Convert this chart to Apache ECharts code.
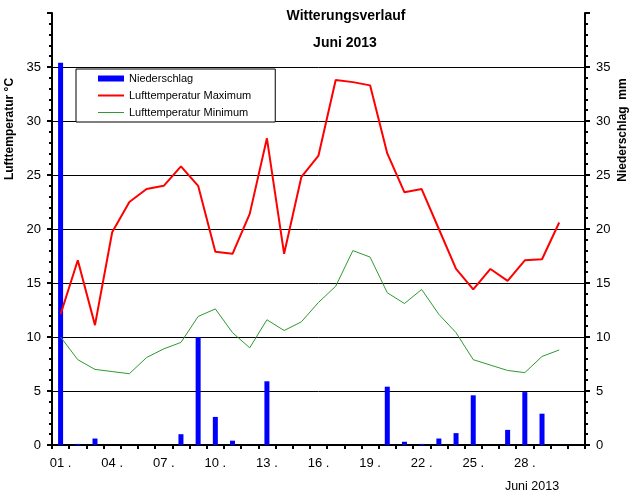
<!DOCTYPE html>
<html>
<head>
<meta charset="utf-8">
<script src="https://cdn.jsdelivr.net/npm/echarts@6/dist/echarts.min.js"></script>
<style>
html,body{margin:0;padding:0;background:#fff;}
#chart{width:634px;height:504px;}
</style>
</head>
<body>
<div id="chart"></div>
<script>
// Days of June 2013 (31 slots on the axis, 30 with data)
var days = ['01','02','03','04','05','06','07','08','09','10','11','12','13','14','15','16','17','18','19','20','21','22','23','24','25','26','27','28','29','30','31'];
// Precipitation (mm)
var niederschlag = [35.4,0.1,0.6,0,0,0,0,1.0,10.0,2.6,0.4,0,5.9,0,0,0,0,0,0,5.4,0.3,0.1,0.6,1.1,4.6,0,1.4,4.9,2.9,0];
// Max air temperature (°C)
var tMax = [12.1,17.1,11.1,19.7,22.5,23.7,24.0,25.8,24.0,17.9,17.7,21.4,28.4,17.7,24.8,26.8,33.8,33.6,33.3,27.0,23.4,23.7,20.0,16.3,14.4,16.3,15.2,17.1,17.2,20.6];
// Min air temperature (°C)
var tMin = [10.0,7.9,7.0,6.8,6.6,8.1,8.9,9.5,11.9,12.6,10.4,9.0,11.6,10.6,11.4,13.2,14.7,18.0,17.4,14.1,13.1,14.4,12.1,10.4,7.9,7.4,6.9,6.7,8.2,8.8];
// Which day labels are shown on the x axis
var shownDayLabels = ['01','04','07','10','13','16','19','22','25','28'];

var FONT = '"Liberation Sans", Arial, sans-serif';
var chart = echarts.init(document.getElementById('chart'), null, {renderer:'canvas'});

var yAxisBase = function (pos, split) {
  return {
    type: 'value', position: pos, min: 0, max: 40, interval: 5,
    axisLine: {show: true, lineStyle: {color: '#000', width: 2}},
    axisTick: {show: true, length: 5, lineStyle: {color: '#000', width: 2}},
    minorTick: {show: true, splitNumber: 5, length: 3, lineStyle: {color: '#000', width: 2}},
    axisLabel: {show: true, showMaxLabel: false, margin: 11, color: '#000', fontSize: 13, fontFamily: FONT},
    splitLine: {show: split, showMaxLine: false, lineStyle: {color: '#000', width: 1}},
    minorSplitLine: {show: false}
  };
};

var option = {
  animation: false,
  backgroundColor: '#fff',
  grid: {left: 52, right: 49, top: 13, bottom: 59, containLabel: false},
  legend: {
    orient: 'vertical', left: 76, top: 69,
    itemWidth: 26, itemHeight: 12, itemGap: 6,
    padding: [4, 24, 4, 22],
    borderColor: '#000', borderWidth: 1, backgroundColor: '#fff',
    textStyle: {color: '#000', fontSize: 11, fontFamily: FONT},
    data: [
      {name: 'Niederschlag', icon: 'path://M0,0H26V6H0Z'},
      {name: 'Lufttemperatur Maximum', icon: 'path://M0,0H26V2H0Z'},
      {name: 'Lufttemperatur Minimum', icon: 'path://M0,0H26V1H0Z'}
    ]
  },
  xAxis: [
    {
      type: 'category', data: days, boundaryGap: true, position: 'bottom',
      axisLine: {show: true, lineStyle: {color: '#000', width: 2}},
      axisTick: {show: false}, axisLabel: {show: false}, splitLine: {show: false}
    },
    {
      type: 'category', data: days, boundaryGap: true, position: 'bottom', offset: 5,
      axisLine: {show: true, lineStyle: {color: '#000', width: 2}},
      axisTick: {show: true, interval: 0, length: 4, lineStyle: {color: '#000', width: 2}},
      axisLabel: {
        show: true, margin: 7, color: '#000', fontSize: 13, fontFamily: FONT,
        interval: function (idx, val) { return shownDayLabels.indexOf(val) >= 0; },
        formatter: function (v) { return v + ' .'; }
      },
      splitLine: {show: false}
    }
  ],
  yAxis: [yAxisBase('left', true), yAxisBase('right', false)],
  graphic: [
    {type: 'text', x: 346, y: 16, style: {text: 'Witterungsverlauf', font: 'bold 14px ' + FONT, fill: '#000', align: 'center', verticalAlign: 'middle'}},
    {type: 'text', x: 345, y: 43, style: {text: 'Juni 2013', font: 'bold 14px ' + FONT, fill: '#000', align: 'center', verticalAlign: 'middle'}},
    {type: 'text', x: 532, y: 487, style: {text: 'Juni 2013', font: '12.5px ' + FONT, fill: '#000', align: 'center', verticalAlign: 'middle'}},
    {type: 'text', x: 10, y: 129, rotation: Math.PI / 2, style: {text: 'Lufttemperatur °C', font: 'bold 12px ' + FONT, fill: '#000', align: 'center', verticalAlign: 'middle'}},
    {type: 'text', x: 623, y: 130, rotation: Math.PI / 2, style: {text: 'Niederschlag  mm', font: 'bold 12px ' + FONT, fill: '#000', align: 'center', verticalAlign: 'middle'}}
  ],
  series: [
    {
      name: 'Niederschlag', type: 'bar', xAxisIndex: 0, yAxisIndex: 1,
      barWidth: 5, itemStyle: {color: '#0000ff'}, data: niederschlag
    },
    {
      name: 'Lufttemperatur Maximum', type: 'line', xAxisIndex: 0, yAxisIndex: 0,
      symbol: 'none', lineStyle: {color: '#ff0000', width: 2}, itemStyle: {color: '#ff0000'}, data: tMax
    },
    {
      name: 'Lufttemperatur Minimum', type: 'line', xAxisIndex: 0, yAxisIndex: 0,
      symbol: 'none', lineStyle: {color: '#2f9a2f', width: 1}, itemStyle: {color: '#2f9a2f'}, data: tMin
    }
  ]
};
chart.setOption(option);
</script>
</body>
</html>
